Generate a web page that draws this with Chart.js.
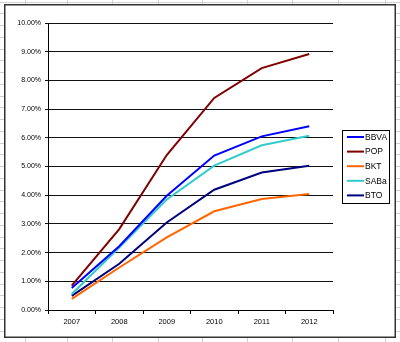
<!DOCTYPE html>
<html>
<head>
<meta charset="utf-8">
<script src="https://cdn.jsdelivr.net/npm/chart.js@4"></script>
<style>
html,body{margin:0;padding:0;background:#fff;}
#wrap{position:relative;width:400px;height:342px;}
</style>
</head>
<body>
<div id="wrap"><canvas id="c" width="400" height="342"></canvas></div>
<script>
const categories = ['2007','2008','2009','2010','2011','2012'];
const seriesNames = ['BBVA','POP','BKT','SABa','BTO'];
const BBVA = [0.77, 2.22, 3.98, 5.38, 6.05, 6.40];
const POP  = [0.85, 2.82, 5.40, 7.39, 8.43, 8.92];
const BKT  = [0.39, 1.48, 2.53, 3.44, 3.87, 4.04];
const SABa = [0.56, 2.18, 3.85, 5.03, 5.74, 6.07];
const BTO  = [0.49, 1.61, 3.05, 4.19, 4.79, 5.03];
const yTickLabels = ['0.00%','1.00%','2.00%','3.00%','4.00%','5.00%','6.00%','7.00%','8.00%','9.00%','10.00%'];

const colors = ['#0000FF','#800000','#FF6600','#33CCCC','#000080'];
const values = [BBVA, POP, BKT, SABa, BTO];

const bgPlugin = {
  id: 'bg',
  beforeDraw(chart) {
    const ctx = chart.ctx;
    ctx.save();
    ctx.fillStyle = '#fff';
    ctx.fillRect(0, 0, 400, 342);
    ctx.strokeStyle = '#cfcfcf';
    ctx.lineWidth = 1;
    const cols = [25, 67, 112, 158, 202, 247, 292, 338, 385];
    cols.forEach(x => { ctx.beginPath(); ctx.moveTo(x + 0.5, 0); ctx.lineTo(x + 0.5, 342); ctx.stroke(); });
    for (let y = 1.5; y < 342; y += 11.75) {
      const yy = Math.round(y) + 0.5;
      ctx.beginPath(); ctx.moveTo(0, yy); ctx.lineTo(400, yy); ctx.stroke();
    }
    ctx.fillStyle = '#fff';
    ctx.fillRect(5, 5, 390, 332);
    ctx.strokeStyle = '#333';
    ctx.lineWidth = 1.5;
    ctx.strokeRect(4.75, 4.75, 390.5, 332.5);
    ctx.restore();
  }
};

const legendPlugin = {
  id: 'boxLegend',
  afterDraw(chart) {
    const ctx = chart.ctx;
    ctx.save();
    ctx.fillStyle = '#fff';
    ctx.fillRect(342, 130, 47, 73);
    ctx.strokeStyle = '#000';
    ctx.lineWidth = 1;
    ctx.strokeRect(342.5, 130.5, 47, 73);
    ctx.font = '8.5px "Liberation Sans", Arial, sans-serif';
    ctx.textBaseline = 'middle';
    ctx.textAlign = 'left';
    chart.data.datasets.forEach((ds, i) => {
      const y = 137 + i * 14.6;
      ctx.strokeStyle = ds.borderColor;
      ctx.lineWidth = 2;
      ctx.beginPath(); ctx.moveTo(347, y); ctx.lineTo(364, y); ctx.stroke();
      ctx.fillStyle = '#000';
      ctx.fillText(ds.label, 365, y + 0.5);
    });
    ctx.restore();
  }
};

new Chart(document.getElementById('c'), {
  type: 'line',
  data: {
    labels: categories,
    datasets: seriesNames.map((n, i) => ({
      label: n,
      data: values[i],
      borderColor: colors[i],
      backgroundColor: colors[i],
      borderWidth: 2,
      pointRadius: 0,
      tension: 0,
      fill: false
    }))
  },
  options: {
    responsive: false,
    animation: false,
    devicePixelRatio: 1,
    layout: { padding: { left: 0, right: 67, top: 23, bottom: 10 } },
    plugins: { legend: { display: false }, tooltip: { enabled: false } },
    scales: {
      x: {
        offset: true,
        afterFit(s) { s.height = 22; },
        grid: { offset: true, drawOnChartArea: false, drawTicks: true, tickLength: 4, color: '#000', lineWidth: 1 },
        border: { display: true, color: '#000', width: 1 },
        ticks: { padding: 3, color: '#000', font: { family: '"Liberation Sans", Arial, sans-serif', size: 7.5 }, maxRotation: 0 }
      },
      y: {
        min: 0, max: 10,
        afterFit(s) { s.width = 48; },
        grid: { drawOnChartArea: true, drawTicks: true, tickLength: 3, color: '#111', lineWidth: 1 },
        border: { display: true, color: '#000', width: 1 },
        ticks: {
          stepSize: 1, padding: 4, color: '#000',
          font: { family: '"Liberation Sans", Arial, sans-serif', size: 7 },
          callback: (v, i) => yTickLabels[i]
        }
      }
    }
  },
  plugins: [bgPlugin, legendPlugin]
});
</script>
</body>
</html>
